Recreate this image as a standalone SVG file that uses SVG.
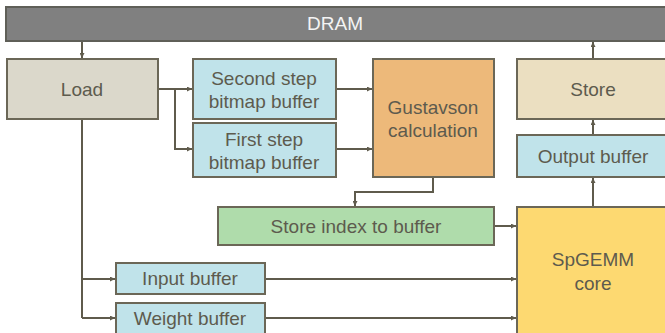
<svg xmlns="http://www.w3.org/2000/svg" width="665" height="333" viewBox="0 0 665 333">
<defs>
<marker id="ah" viewBox="0 0 10 10" refX="10" refY="5" markerWidth="5" markerHeight="5" orient="auto" markerUnits="userSpaceOnUse">
<path d="M0,0 L10,5 L0,10 z" fill="#5f5b4c"/>
</marker>
<style>
rect{stroke:#6b6757;stroke-width:2}
text{font-family:"Liberation Sans",Arial,sans-serif;font-size:19px;fill:#5d5b4e;text-anchor:middle}
.c{fill:none;stroke:#5f5b4c;stroke-width:2}
.a{marker-end:url(#ah)}
.blue{fill:#c0e3ea}
</style>
</defs>
<rect width="665" height="333" fill="#ffffff" style="stroke:none"/>
<g id="connectors">
<path class="c a" d="M82,41 V58"/>
<path class="c a" d="M593,58 V42"/>
<path class="c a" d="M158,89 H192"/>
<path class="c a" d="M175,89 V149 H192"/>
<path class="c a" d="M336,89 H372"/>
<path class="c a" d="M336,149 H372"/>
<path class="c a" d="M433,177 V192 H355 V206"/>
<path class="c" d="M82,119 V318"/>
<path class="c a" d="M82,279 H115"/>
<path class="c a" d="M82,318 H115"/>
<path class="c a" d="M494,226 H516"/>
<path class="c a" d="M265,279 H516"/>
<path class="c a" d="M265,318 H516"/>
<path class="c a" d="M593,207 V178"/>
<path class="c a" d="M593,135 V120"/>
</g>
<g id="dram"><rect x="6" y="7" width="665" height="34" fill="#808080" style="stroke:#5f5f58"/><text x="335" y="30" style="fill:#f4f4f4">DRAM</text></g>
<g id="load"><rect x="7" y="59" width="151" height="60" fill="#dbd8cb"/><text x="82" y="96">Load</text></g>
<g id="second"><rect class="blue" x="193" y="59" width="143" height="60"/><text x="264" y="85">Second step</text><text x="264" y="108">bitmap buffer</text></g>
<g id="first"><rect class="blue" x="193" y="123" width="143" height="54"/><text x="264" y="146">First step</text><text x="264" y="169">bitmap buffer</text></g>
<g id="gustavson"><rect x="373" y="59" width="121" height="118" fill="#edb97a"/><text x="433" y="114">Gustavson</text><text x="433" y="137">calculation</text></g>
<g id="store"><rect x="517" y="59" width="160" height="60" fill="#ebdfc1"/><text x="593" y="96">Store</text></g>
<g id="output"><rect class="blue" x="517" y="135" width="160" height="42"/><text x="593" y="163">Output buffer</text></g>
<g id="storeindex"><rect x="218" y="207" width="276" height="38" fill="#afdcab"/><text x="356" y="233">Store index to buffer</text></g>
<g id="spgemm"><rect x="517" y="207" width="160" height="140" fill="#fdd971"/><text x="593" y="266">SpGEMM</text><text x="593" y="290">core</text></g>
<g id="input"><rect class="blue" x="116" y="263" width="149" height="31"/><text x="190" y="285">Input buffer</text></g>
<g id="weight"><rect class="blue" x="116" y="303" width="149" height="40"/><text x="190" y="325">Weight buffer</text></g>
</svg>
